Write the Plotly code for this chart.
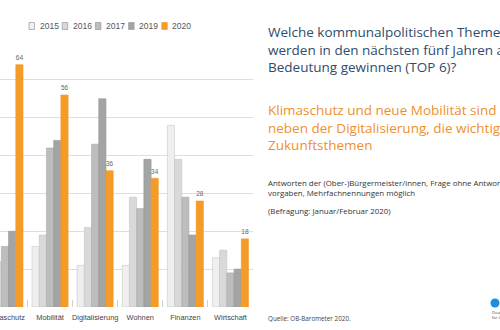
import plotly.graph_objects as go

CATEGORIES = ["Klimaschutz", "Mobilität", "Digitalisierung", "Wohnen", "Finanzen", "Wirtschaft"]
YEARS = ["2015", "2016", "2017", "2019", "2020"]
V2015 = [10, 16, 11, 11, 48, 13]
V2016 = [12, 19, 21, 29, 39, 15]
V2017 = [16, 42, 43, 26, 29, 9]
V2019 = [20, 44, 55, 39, 19, 10]
V2020 = [64, 56, 36, 34, 28, 18]
SERIES = [V2015, V2016, V2017, V2019, V2020]

FILLS = ["#efefef", "#d9d9d9", "#bdbdbd", "#a4a4a4", "#f49b28"]
LINES = ["#c8c8c8", "#c4c4c4", "#aaaaaa", "#959595", "#f49b28"]

TITLE_LINES = ["Welche kommunalpolitischen Themen",
               "werden in den nächsten fünf Jahren an",
               "Bedeutung gewinnen (TOP 6)?"]
SUB_LINES = ["Klimaschutz und neue Mobilität sind",
             "neben der Digitalisierung, die wichtigsten",
             "Zukunftsthemen"]
NOTE_LINES = ["Antworten der (Ober-)Bürgermeister/innen, Frage ohne Antwort-",
              "vorgaben, Mehrfachnennungen möglich"]
NOTE2 = "(Befragung: Januar/Februar 2020)"
SOURCE = "Quelle: OB-Barometer 2020."

W, H = 500, 330
PL, PR, PT, PB = 0, 253, 42, 307

def xp(px):
    return (px - PL) / (PR - PL)

def yp(py):
    return (PB - py) / (PB - PT)

fig = go.Figure()
for name, vals, fc, lc in zip(YEARS, SERIES, FILLS, LINES):
    is_last = name == "2020"
    fig.add_trace(go.Bar(
        x=CATEGORIES, y=vals, name=name,
        marker=dict(color=fc, line=dict(color=lc, width=0.6)),
        text=vals if is_last else None,
        texttemplate="%{text}" if is_last else None,
        textposition="outside" if is_last else "none",
        textfont=dict(size=7.5, color="#666666", family="Liberation Sans"),
        cliponaxis=False,
        showlegend=False,
    ))

annotations = []
shapes = []

# compact legend built from the series list
leg_x0 = 29
leg_step = 33.2
for i, (name, fc, lc) in enumerate(zip(YEARS, FILLS, LINES)):
    x0 = leg_x0 + i * leg_step
    shapes.append(dict(type="rect", xref="paper", yref="paper",
                       x0=xp(x0), x1=xp(x0 + 5.5), y0=yp(29.5), y1=yp(22.5),
                       fillcolor=fc, line=dict(color="#999999" if i < 4 else lc, width=0.7)))
    annotations.append(dict(text=name, xref="paper", yref="paper",
                            x=xp(x0 + 8.5), y=yp(26), xanchor="left", yanchor="middle",
                            showarrow=False,
                            font=dict(size=8.5, color="#555555", family="Liberation Sans")))

tx = 266
annotations.append(dict(text="<br>".join(TITLE_LINES), xref="paper", yref="paper",
                        x=xp(tx), y=yp(21), xanchor="left", yanchor="top", align="left",
                        showarrow=False,
                        font=dict(size=13.5, color="#2f4c6c", family="Open Sans")))
annotations.append(dict(text="<br>".join(SUB_LINES), xref="paper", yref="paper",
                        x=xp(tx), y=yp(98.5), xanchor="left", yanchor="top", align="left",
                        showarrow=False,
                        font=dict(size=13.5, color="#ee8f2d", family="Open Sans")))
annotations.append(dict(text="<br>".join(NOTE_LINES), xref="paper", yref="paper",
                        x=xp(tx), y=yp(175.5), xanchor="left", yanchor="top", align="left",
                        showarrow=False,
                        font=dict(size=7.9, color="#333333", family="Open Sans")))
annotations.append(dict(text=NOTE2, xref="paper", yref="paper",
                        x=xp(tx), y=yp(210.5), xanchor="left", yanchor="middle",
                        showarrow=False,
                        font=dict(size=7.9, color="#333333", family="Open Sans")))
annotations.append(dict(text=SOURCE, xref="paper", yref="paper",
                        x=xp(tx), y=yp(318), xanchor="left", yanchor="middle",
                        showarrow=False,
                        font=dict(size=6.3, color="#444444", family="Open Sans")))

# logo
shapes.append(dict(type="circle", xref="paper", yref="paper",
                   x0=xp(490.5), x1=xp(499.5), y0=yp(307.5), y1=yp(298.5),
                   fillcolor="#1b8ee0", line=dict(width=0)))
annotations.append(dict(text="Deutsches Institut<br>für Urbanistik", xref="paper", yref="paper",
                        x=xp(490), y=yp(315), xanchor="left", yanchor="middle", align="left",
                        showarrow=False,
                        font=dict(size=4, color="#444444", family="Open Sans")))

fig.update_layout(
    width=W, height=H,
    margin=dict(l=PL, r=W - PR, t=PT, b=H - PB, pad=0, autoexpand=False),
    paper_bgcolor="white", plot_bgcolor="white",
    barmode="group", bargap=0.2, bargroupgap=0,
    showlegend=False,
    annotations=annotations,
    shapes=shapes,
    xaxis=dict(type="category", range=[-0.11, 5.5], showgrid=False, zeroline=False,
               showline=False, tickson="boundaries", ticks="inside", ticklen=7,
               tickcolor="#d0d0d0", tickwidth=1, tickangle=0, automargin=False,
               ticklabelstandoff=5,
               tickfont=dict(size=7.4, color="#444444", family="Liberation Sans")),
    yaxis=dict(range=[0, 70], dtick=10, showgrid=True, gridcolor="#dedede", gridwidth=1,
               zeroline=False, showticklabels=False, showline=False, automargin=False),
)

fig.write_html("out.html")
